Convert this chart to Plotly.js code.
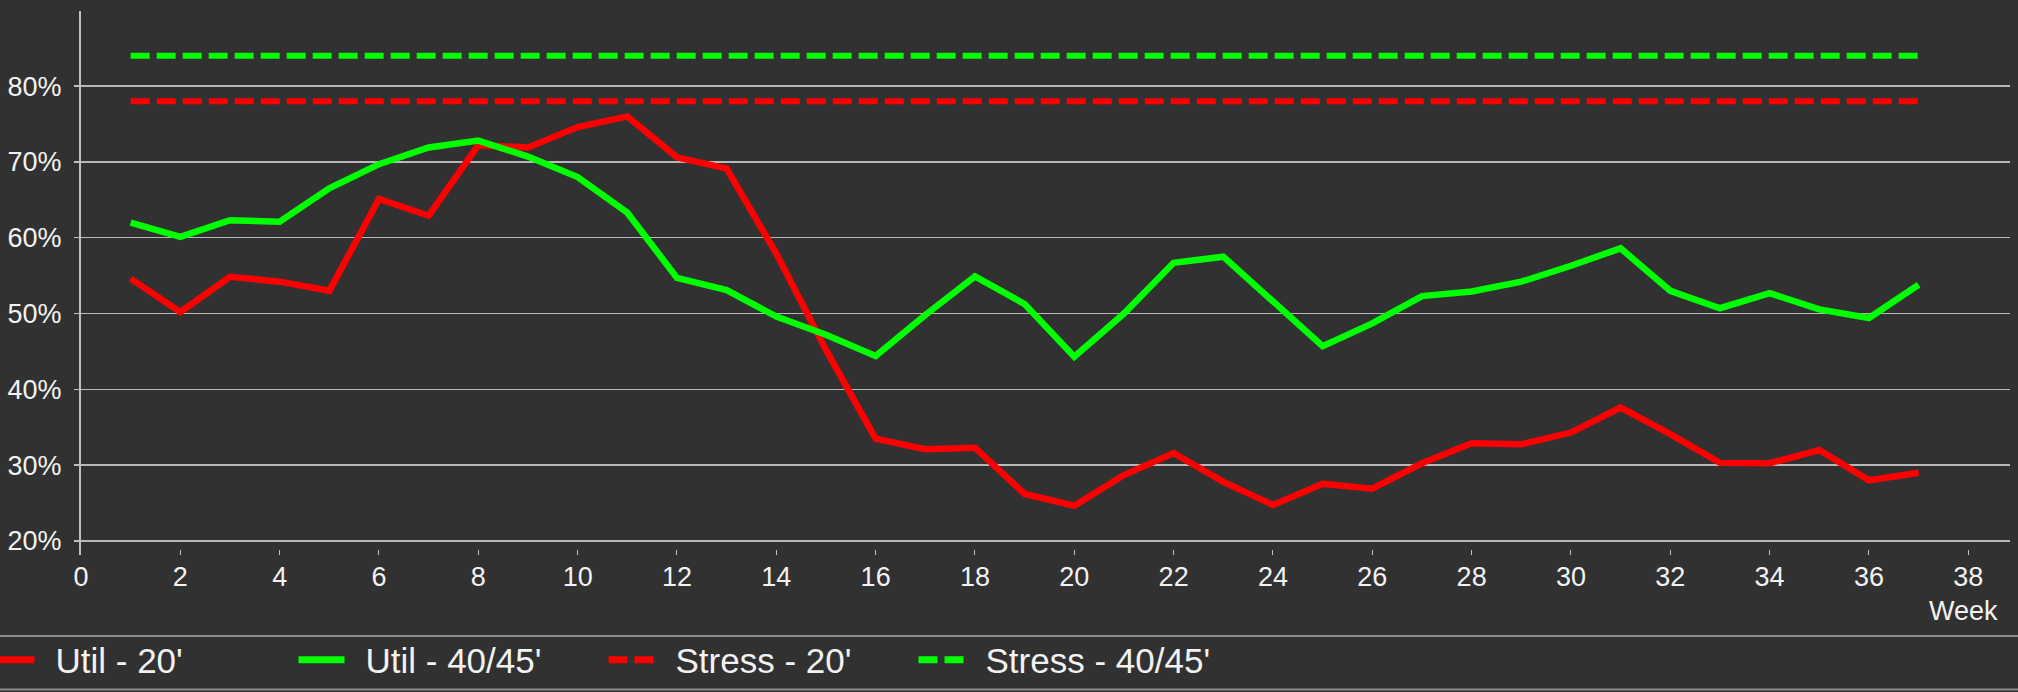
<!DOCTYPE html>
<html><head><meta charset="utf-8">
<script src="https://cdn.plot.ly/plotly-3.0.1.min.js"></script>
<style>html,body{margin:0;padding:0;background:#313131;}#chart{width:2018px;height:692px;}</style>
</head><body><div id="chart"></div>
<script>
const weeks = [1,2,3,4,5,6,7,8,9,10,11,12,13,14,15,16,17,18,19,20,21,22,23,24,25,26,27,28,29,30,31,32,33,34,35,36,37];
const util20 = [54.6,50.2,54.85,54.2,53.0,65.1,62.9,72.2,71.9,74.6,76.0,70.6,69.1,57.9,45.2,33.5,32.1,32.3,26.2,24.65,28.7,31.6,27.8,24.75,27.55,26.9,30.25,32.9,32.75,34.3,37.6,34.1,30.3,30.25,32.0,28.0,29.0];
const util4045 = [62.0,60.1,62.3,62.1,66.5,69.7,71.9,72.8,70.7,68.0,63.3,54.7,53.1,49.6,47.2,44.4,49.8,54.9,51.25,44.3,50.0,56.7,57.5,51.55,45.7,48.7,52.3,52.9,54.2,56.3,58.6,53.0,50.7,52.7,50.55,49.4,53.8];
const stressWeeks = [1,37];
const stress20 = [78,78];
const stress4045 = [84,84];
const seriesNames = ["Util - 20'", "Util - 40/45'", "Stress - 20'", "Stress - 40/45'"];
const xTicks = [0,2,4,6,8,10,12,14,16,18,20,22,24,26,28,30,32,34,36,38];
const yTicks = [20,30,40,50,60,70,80];

const W = 2018, H = 692, mL = 81, mR = 8, mT = 11, mB = 137;
const pw = W - mL - mR, ph = H - mT - mB;
const pxX = p => (p - mL) / pw;
const pxY = p => (H - mB - p) / ph;

const FONT = '"Liberation Sans", Arial, sans-serif';
const TXT = '#f2f2f2';
const RED = '#ff0000', GREEN = '#00ff00';

const traces = [
  {x: weeks, y: util20, name: seriesNames[0], mode: 'lines', line: {color: RED, width: 6.5}},
  {x: weeks, y: util4045, name: seriesNames[1], mode: 'lines', line: {color: GREEN, width: 6.5}},
  {x: stressWeeks, y: stress20, name: seriesNames[2], mode: 'lines', line: {color: RED, width: 6, dash: '19px,7px'}},
  {x: stressWeeks, y: stress4045, name: seriesNames[3], mode: 'lines', line: {color: GREEN, width: 6, dash: '19px,7px'}}
];

const layout = {
  width: W, height: H,
  paper_bgcolor: '#313131', plot_bgcolor: '#313131',
  margin: {l: mL, r: mR, t: mT, b: mB, pad: 0, autoexpand: false},
  font: {family: FONT, color: TXT, size: 27},
  showlegend: true,
  xaxis: {
    range: [0, 38.84], tickvals: xTicks, ticktext: xTicks.map(String), automargin: false,
    showgrid: false, zeroline: false, showline: false,
    ticks: 'inside', ticklen: 5, tickwidth: 1, tickcolor: '#bfbfbf',
    ticklabelstandoff: 3,
    tickfont: {family: FONT, size: 27, color: TXT}
  },
  yaxis: {
    range: [18.15, 89.9], tickvals: yTicks, ticktext: yTicks.map(v => v + '%'), automargin: false,
    showgrid: true, gridcolor: '#b8b8b8', gridwidth: 1.5, zeroline: false,
    showline: true, linecolor: '#bfbfbf', linewidth: 2,
    ticks: 'outside', ticklen: 5, tickwidth: 1.5, tickcolor: '#bfbfbf',
    ticklabelstandoff: 7,
    tickfont: {family: FONT, size: 27, color: TXT}
  },
  legend: {
    orientation: 'h', x: pxX(-11.5), xanchor: 'left', y: pxY(660), yanchor: 'middle',
    font: {family: FONT, size: 35, color: TXT},
    bgcolor: 'rgba(0,0,0,0)', entrywidth: 238, entrywidthmode: 'pixels',
    itemwidth: 57, tracegroupgap: 0
  },
  shapes: [
    {type: 'line', xref: 'paper', yref: 'paper', x0: pxX(0), x1: pxX(W), y0: pxY(636), y1: pxY(636), line: {color: '#8a8a8a', width: 2}},
    {type: 'line', xref: 'paper', yref: 'paper', x0: pxX(0), x1: pxX(W), y0: pxY(689.5), y1: pxY(689.5), line: {color: '#8a8a8a', width: 2}}
  ],
  annotations: [
    {text: 'Week', xref: 'paper', yref: 'paper', x: pxX(2000), y: pxY(611), xanchor: 'right', yanchor: 'middle', showarrow: false,
     font: {family: FONT, size: 27, color: TXT}}
  ]
};

Plotly.newPlot('chart', traces, layout, {displayModeBar: false, staticPlot: true}).then(gd => {
  // legend swatches: 46px long, 7px thick, with a wider gap before the text (as in the reference)
  gd.querySelectorAll('.legend .legendlines path').forEach(p => {
    p.setAttribute('d', 'M0,0h46');
    p.style.strokeWidth = '7px';
  });
});
</script>
</body></html>
